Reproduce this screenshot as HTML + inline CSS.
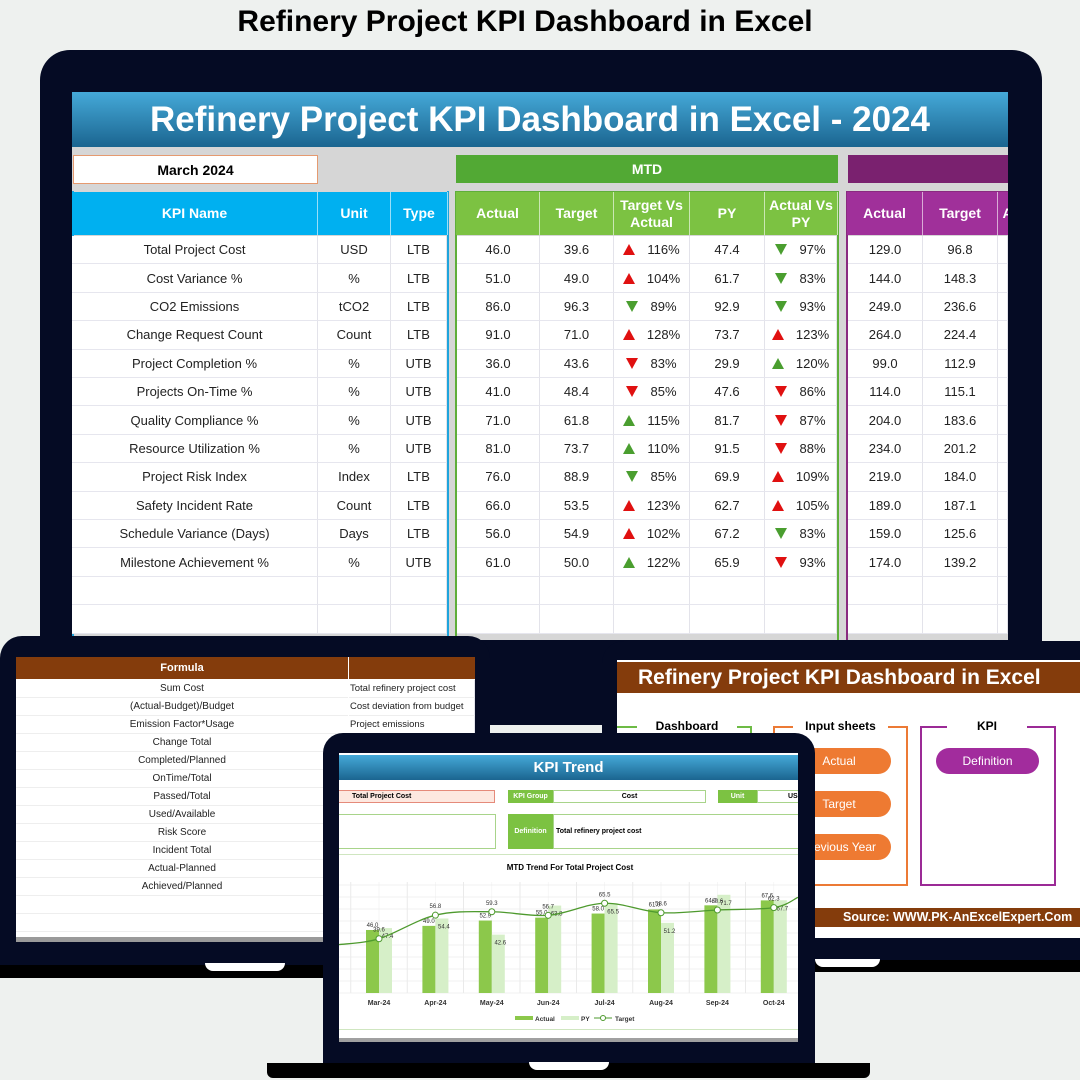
<!DOCTYPE html>
<html><head><meta charset="utf-8">
<style>
*{box-sizing:border-box;margin:0;padding:0}
body{width:1080px;height:1080px;position:relative;overflow:hidden;background:#eef1ef;font-family:"Liberation Sans",sans-serif}
.abs{position:absolute}
.frame{background:#050b24}
.c{display:flex;align-items:center;justify-content:center;text-align:center}
.cell{position:absolute;display:flex;align-items:center;justify-content:center;font-size:13px;color:#222;border-right:1px solid #e3e3ea;border-bottom:1px solid #e6e6ee;background:#fff}
.hd{position:absolute;display:flex;align-items:center;justify-content:center;text-align:center;color:#fff;font-weight:bold;font-size:14px;line-height:1.15;border-right:1px solid rgba(255,255,255,.6)}
.up{display:inline-block;width:0;height:0;border-left:6px solid transparent;border-right:6px solid transparent;border-bottom:11px solid #e01010;margin-right:12px}
.dn{display:inline-block;width:0;height:0;border-left:6px solid transparent;border-right:6px solid transparent;border-top:11px solid #e01010;margin-right:12px}
.g.up{border-bottom-color:#4a9e2f}.g.dn{border-top-color:#4a9e2f}
.pill{position:absolute;border-radius:14px;color:#fff;font-size:12px;display:flex;align-items:center;justify-content:center}
</style></head><body>

<div class="abs c" style="left:0;top:3px;width:1050px;height:38px;font-size:30px;font-weight:bold;color:#000">Refinery Project KPI Dashboard in Excel</div>

<!-- main laptop -->
<div class="abs frame" style="left:40px;top:50px;width:1002px;height:675px;border-radius:30px 30px 0 0"></div>
<div class="abs" style="left:72px;top:92px;width:936px;height:548px;background:#d6d6d6;overflow:hidden" id="main">
  <div class="abs c" style="left:0;top:0;width:936px;height:55px;background:linear-gradient(#45a9d8,#1b6590);color:#fff;font-weight:bold;font-size:35px">Refinery Project KPI Dashboard in Excel - 2024</div>
  <div class="abs c" style="left:1px;top:63px;width:245px;height:29px;background:#fff;border:1px solid #e59a70;font-weight:bold;font-size:14px">March 2024</div>
  <div class="abs c" style="left:384px;top:63px;width:382px;height:28px;background:#52a934;color:#fff;font-weight:bold;font-size:14px">MTD</div>
  <div class="abs" style="left:776px;top:63px;width:170px;height:28px;background:#7a216f"></div>
  <div class="abs" style="left:0;top:99px;width:377px;height:460px;border:2px solid #1ea4dc;border-top:none"></div>
  <div class="abs" style="left:383px;top:99px;width:384px;height:460px;border:2px solid #5fae3a"></div>
  <div class="abs" style="left:774px;top:99px;width:170px;height:460px;border:2px solid #8a2a80"></div>
</div>

<!-- bottom-left laptop -->
<div class="abs frame" style="left:0;top:636px;width:490px;height:330px;border-radius:22px 22px 0 0"></div>
<div class="abs" style="left:0;top:965px;width:330px;height:13px;background:#000"></div>
<div class="abs" style="left:205px;top:963px;width:80px;height:8px;background:#fff;border-radius:0 0 8px 8px"></div>
<div class="abs" style="left:16px;top:657px;width:459px;height:285px;background:#fff;overflow:hidden" id="fscr">
  <div class="abs c" style="left:0;top:0;width:332px;height:22px;background:#843c0c;color:#fff;font-weight:bold;font-size:11px">Formula</div>
  <div class="abs" style="left:333px;top:0;width:126px;height:22px;background:#843c0c"></div>
  <div class="abs" style="left:0;top:280px;width:459px;height:5px;background:#9a9a9a"></div>
</div>

<!-- bottom-right laptop -->
<div class="abs frame" style="left:602px;top:641px;width:478px;height:320px;border-radius:22px 0 0 0"></div>
<div class="abs" style="left:815px;top:960px;width:265px;height:12px;background:#000"></div>
<div class="abs" style="left:815px;top:959px;width:65px;height:8px;background:#fff;border-radius:0 0 8px 8px"></div>
<div class="abs" style="left:617px;top:660px;width:463px;height:278px;background:#fff;overflow:hidden">
  <div class="abs" style="left:0;top:2px;width:463px;height:31px;background:#843c0c;color:#fff;font-weight:bold;font-size:21px;line-height:31px;padding-left:21px;white-space:nowrap">Refinery Project KPI Dashboard in Excel</div>
  <div class="abs" style="left:-5px;top:66px;width:140px;height:160px;border:2px solid #6dbb45;border-bottom:none;border-left:none"></div>
  <div class="abs c" style="left:20px;top:57px;width:100px;height:18px;background:#fff;font-weight:bold;font-size:12px">Dashboard</div>
  <div class="abs" style="left:156px;top:66px;width:135px;height:160px;border:2px solid #ec7a35"></div>
  <div class="abs c" style="left:176px;top:57px;width:95px;height:18px;background:#fff;font-weight:bold;font-size:12px">Input sheets</div>
  <div class="abs" style="left:303px;top:66px;width:136px;height:160px;border:2px solid #9b2a96"></div>
  <div class="abs c" style="left:330px;top:57px;width:80px;height:18px;background:#fff;font-weight:bold;font-size:12px">KPI</div>
  <div class="pill" style="left:170px;top:88px;width:104px;height:26px;background:#ee7a32">Actual</div>
  <div class="pill" style="left:170px;top:131px;width:104px;height:26px;background:#ee7a32">Target</div>
  <div class="pill" style="left:170px;top:174px;width:104px;height:26px;background:#ee7a32">Previous Year</div>
  <div class="pill" style="left:319px;top:88px;width:103px;height:26px;background:#a22c9d">Definition</div>
  <div class="abs" style="left:0;top:248px;width:463px;height:19px;background:#843c0c;color:#fff;font-weight:bold;font-size:12.5px;line-height:19px;padding-left:226px;white-space:nowrap">Source: WWW.PK-AnExcelExpert.Com</div>
</div>

<!-- middle laptop -->
<div class="abs frame" style="left:323px;top:733px;width:492px;height:331px;border-radius:20px 20px 0 0"></div>
<div class="abs" style="left:267px;top:1063px;width:603px;height:15px;background:#000;border-radius:0 0 6px 6px"></div>
<div class="abs" style="left:529px;top:1062px;width:80px;height:8px;background:#fff;border-radius:0 0 8px 8px"></div>
<div class="abs" style="left:339px;top:753px;width:459px;height:289px;background:#fff;overflow:hidden">
  <div class="abs c" style="left:0;top:2px;width:459px;height:25px;background:linear-gradient(#45a9d8,#1b6590);color:#fff;font-weight:bold;font-size:15px">KPI Trend</div>
  <div class="abs" style="left:-2px;top:37px;width:158px;height:13px;background:#fde8e0;border:1px solid #e58a7a;font-size:7px;font-weight:bold;line-height:11px;padding-left:14px">Total Project Cost</div>
  <div class="abs c" style="left:169px;top:37px;width:45px;height:13px;background:#7cc242;color:#fff;font-size:7px;font-weight:bold">KPI Group</div>
  <div class="abs c" style="left:214px;top:37px;width:153px;height:13px;border:1px solid #a8d48a;font-size:7px;font-weight:bold">Cost</div>
  <div class="abs c" style="left:379px;top:37px;width:39px;height:13px;background:#7cc242;color:#fff;font-size:7px;font-weight:bold">Unit</div>
  <div class="abs" style="left:418px;top:37px;width:45px;height:13px;border:1px solid #a8d48a;font-size:7px;font-weight:bold;padding-left:30px;line-height:11px">US</div>
  <div class="abs" style="left:-2px;top:61px;width:159px;height:35px;border:1px solid #a8d48a"></div>
  <div class="abs c" style="left:169px;top:61px;width:45px;height:35px;background:#7cc242;color:#fff;font-size:7px;font-weight:bold">Definition</div>
  <div class="abs" style="left:214px;top:61px;width:250px;height:35px;border:1px solid #a8d48a;font-size:7px;font-weight:bold;line-height:33px;padding-left:2px">Total refinery project cost</div>
  <div class="abs" style="left:0;top:101px;width:459px;height:1px;background:#cfe6c0"></div>
  <div class="abs c" style="left:0;top:107px;width:462px;height:14px;font-size:8px;font-weight:bold">MTD Trend For Total Project Cost</div>
  <div class="abs" style="left:0;top:276px;width:459px;height:1px;background:#cfe6c0"></div>
  <div class="abs" style="left:0;top:285px;width:459px;height:4px;background:#a0a0a0"></div>
  <svg id="chart" class="abs" style="left:0;top:107px" width="459" height="170"></svg>
</div>

<script>
// ===== main table data =====
const kpiNames=["Total Project Cost","Cost Variance %","CO2 Emissions","Change Request Count","Project Completion %","Projects On-Time %","Quality Compliance %","Resource Utilization %","Project Risk Index","Safety Incident Rate","Schedule Variance (Days)","Milestone Achievement %"];
const kpiUnits=["USD","%","tCO2","Count","%","%","%","%","Index","Count","Days","%"];
const kpiTypes=["LTB","LTB","LTB","LTB","UTB","UTB","UTB","UTB","LTB","LTB","LTB","UTB"];
const mtdActual=[46.0,51.0,86.0,91.0,36.0,41.0,71.0,81.0,76.0,66.0,56.0,61.0];
const mtdTarget=[39.6,49.0,96.3,71.0,43.6,48.4,61.8,73.7,88.9,53.5,54.9,50.0];
const mtdTvA=[116,104,89,128,83,85,115,110,85,123,102,122];
const mtdPY=[47.4,61.7,92.9,73.7,29.9,47.6,81.7,91.5,69.9,62.7,67.2,65.9];
const mtdAvP=[97,83,93,123,120,86,87,88,109,105,83,93];
const ytdActual=[129.0,144.0,249.0,264.0,99.0,114.0,204.0,234.0,219.0,189.0,159.0,174.0];
const ytdTarget=[96.8,148.3,236.6,224.4,112.9,115.1,183.6,201.2,184.0,187.1,125.6,139.2];
// formula sheet
const formulas=["Sum Cost","(Actual-Budget)/Budget","Emission Factor*Usage","Change Total","Completed/Planned","OnTime/Total","Passed/Total","Used/Available","Risk Score","Incident Total","Actual-Planned","Achieved/Planned"];
const descriptions=["Total refinery project cost","Cost deviation from budget","Project emissions"];

const main=document.getElementById('main');
const top0=144, rh=28.4;
function cell(parent,x,y,w,h,html,cls,name){
  const d=document.createElement('div');
  d.className=cls; d.style.left=x+'px'; d.style.top=y+'px'; d.style.width=w+'px'; d.style.height=h+'px';
  d.innerHTML=html;
  
  
  parent.appendChild(d); return d;
}
const hdrs=[[0,246,"KPI Name","#00b0f0"],[246,73,"Unit","#00b0f0"],[319,57,"Type","#00b0f0"],
[384,84,"Actual","#7cc242"],[468,74,"Target","#7cc242"],[542,76,"Target Vs<br>Actual","#7cc242"],[618,75,"PY","#7cc242"],[693,73,"Actual Vs<br>PY","#7cc242"],
[775,76,"Actual","#a0309a"],[851,75,"Target","#a0309a"],[926,20,"A","#a0309a"]];
hdrs.forEach(h=>{const d=cell(main,h[0],100,h[1],43,h[2],'hd','column-header');d.style.background=h[3];});
for(let i=0;i<14;i++){
  const y=top0+i*rh;
  const has=i<12;
  const f=v=>has?v:'';
  cell(main,0,y,246,rh,f(kpiNames[i]),'cell','kpi-name-cell');
  cell(main,246,y,73,rh,f(kpiUnits[i]),'cell','unit-cell');
  cell(main,319,y,56,rh,f(kpiTypes[i]),'cell','type-cell');
  cell(main,385,y,83,rh,has?mtdActual[i].toFixed(1):'','cell','mtd-actual-cell');
  cell(main,468,y,74,rh,has?mtdTarget[i].toFixed(1):'','cell','mtd-target-cell');
  let tv='',av='';
  if(has){
    const lt=kpiTypes[i]==="LTB";
    const a1=mtdTvA[i]>=100?'up':'dn'; const good1=lt?mtdTvA[i]<100:mtdTvA[i]>=100;
    tv='<span class="'+a1+(good1?' g':'')+'"></span>'+mtdTvA[i]+'%';
    const a2=mtdAvP[i]>=100?'up':'dn'; const good2=lt?mtdAvP[i]<100:mtdAvP[i]>=100;
    av='<span class="'+a2+(good2?' g':'')+'"></span>'+mtdAvP[i]+'%';
  }
  cell(main,542,y,76,rh,tv,'cell','target-vs-actual-cell');
  cell(main,618,y,75,rh,has?mtdPY[i].toFixed(1):'','cell','mtd-py-cell');
  cell(main,693,y,72,rh,av,'cell','actual-vs-py-cell');
  cell(main,776,y,75,rh,has?ytdActual[i].toFixed(1):'','cell','ytd-actual-cell');
  cell(main,851,y,75,rh,has?ytdTarget[i].toFixed(1):'','cell','ytd-target-cell');
  cell(main,926,y,10,rh,'','cell','ytd-cell');
}
const fs=document.getElementById('fscr');
for(let i=0;i<14;i++){
  const y=23+i*18;
  const a=cell(fs,0,y,332,18,formulas[i]||'','cell','formula-cell');a.style.fontSize='10px';a.style.borderRight='none';a.style.borderBottom='1px solid #eee';
  const b=cell(fs,333,y,126,18,descriptions[i]||'','cell','description-cell');b.style.fontSize='9.5px';b.style.justifyContent='flex-start';b.style.paddingLeft='1px';b.style.whiteSpace='nowrap';b.style.borderBottom='1px solid #eee';
}
</script>

<script>
// ===== trend chart data =====
const months=["Mar-24","Apr-24","May-24","Jun-24","Jul-24","Aug-24","Sep-24","Oct-24"];
const actualVals=[46.0,49.0,52.9,55.0,58.0,61.0,64.0,67.6];
const pyVals=[47.4,54.4,42.6,63.8,65.5,51.2,71.7,67.7];
const targetVals=[39.6,56.8,59.3,56.7,65.5,58.6,60.6,62.3];

const svg=document.getElementById('chart');
const NS='http://www.w3.org/2000/svg';
const baseY=133, pxPerUnit=1.37, x0=40, step=56.4, bw=13;
const xs=i=>x0+i*step;
const ys=v=>baseY-v*pxPerUnit;
function mk(tag,attrs,name){const e=document.createElementNS(NS,tag);for(const k in attrs)e.setAttribute(k,attrs[k]);
  
  
  svg.appendChild(e);return e;}
for(let gx=x0-step/2;gx<459;gx+=step){
  mk('line',{x1:gx,y1:22,x2:gx,y2:baseY,stroke:'#e4e4e4','stroke-width':0.8},'grid-line-v');
  mk('line',{x1:gx+step/2,y1:22,x2:gx+step/2,y2:baseY,stroke:'#f0f0f0','stroke-width':0.6},'grid-line-v-minor');
}
for(let gy=baseY;gy>20;gy-=12){mk('line',{x1:0,y1:gy,x2:459,y2:gy,stroke:'#ececec','stroke-width':0.7},'grid-line-h');}
months.forEach((m,i)=>{
  mk('rect',{x:xs(i)-bw,y:ys(actualVals[i]),width:bw,height:baseY-ys(actualVals[i]),fill:'#8cc84b'},'bar-actual');
  mk('rect',{x:xs(i),y:ys(pyVals[i]),width:bw,height:baseY-ys(pyVals[i]),fill:'#d6efc8'},'bar-py');
  const t=mk('text',{x:xs(i),y:baseY+12,'font-size':7,'font-weight':'bold','text-anchor':'middle',fill:'#333','font-family':'Liberation Sans'},'x-axis-label');t.textContent=m;
  const a=mk('text',{x:xs(i)-bw/2,y:ys(actualVals[i])-3,'font-size':6,'text-anchor':'middle',fill:'#333','font-family':'Liberation Sans'},'actual-value-label');a.textContent=actualVals[i].toFixed(1);
  const p=mk('text',{x:xs(i)+bw/2+2,y:ys(pyVals[i])+10,'font-size':6,'text-anchor':'middle',fill:'#333','font-family':'Liberation Sans'},'py-value-label');p.textContent=pyVals[i].toFixed(1);
});
const pts=targetVals.map((v,i)=>[xs(i),ys(v)]);
const first=[0,pts[0][1]+(pts[0][1]-pts[1][1])*0.25], last=[459,pts[7][1]-(pts[6][1]-pts[7][1]+8)];
const all=[first,...pts,last];
let d='M'+all[0][0]+','+all[0][1];
for(let i=0;i<all.length-1;i++){
  const p0=all[Math.max(0,i-1)],p1=all[i],p2=all[i+1],p3=all[Math.min(all.length-1,i+2)];
  const c1=[p1[0]+(p2[0]-p0[0])/6,p1[1]+(p2[1]-p0[1])/6],c2=[p2[0]-(p3[0]-p1[0])/6,p2[1]-(p3[1]-p1[1])/6];
  d+=' C'+c1[0]+','+c1[1]+' '+c2[0]+','+c2[1]+' '+p2[0]+','+p2[1];
}
mk('path',{d:d,fill:'none',stroke:'#4e9a2e','stroke-width':1.3},'target-line');
pts.forEach((p,i)=>{
  mk('circle',{cx:p[0],cy:p[1],r:3,fill:'#fff',stroke:'#4e9a2e','stroke-width':1},'target-point');
  const t=mk('text',{x:p[0],y:p[1]-7,'font-size':6,'text-anchor':'middle',fill:'#333','font-family':'Liberation Sans'},'target-value-label');t.textContent=targetVals[i].toFixed(1);
});
mk('rect',{x:176,y:156,width:18,height:4,fill:'#8cc84b'},'legend-actual-swatch');
let l=mk('text',{x:196,y:161,'font-size':6.5,'font-weight':'bold',fill:'#333','font-family':'Liberation Sans'},'legend-actual');l.textContent='Actual';
mk('rect',{x:222,y:156,width:18,height:4,fill:'#d6efc8'},'legend-py-swatch');
l=mk('text',{x:242,y:161,'font-size':6.5,'font-weight':'bold',fill:'#333','font-family':'Liberation Sans'},'legend-py');l.textContent='PY';
mk('line',{x1:255,y1:158,x2:273,y2:158,stroke:'#4e9a2e','stroke-width':1},'legend-target-line');
mk('circle',{cx:264,cy:158,r:2.5,fill:'#fff',stroke:'#4e9a2e'},'legend-target-marker');
l=mk('text',{x:276,y:161,'font-size':6.5,'font-weight':'bold',fill:'#333','font-family':'Liberation Sans'},'legend-target');l.textContent='Target';
</script>
</body></html>
